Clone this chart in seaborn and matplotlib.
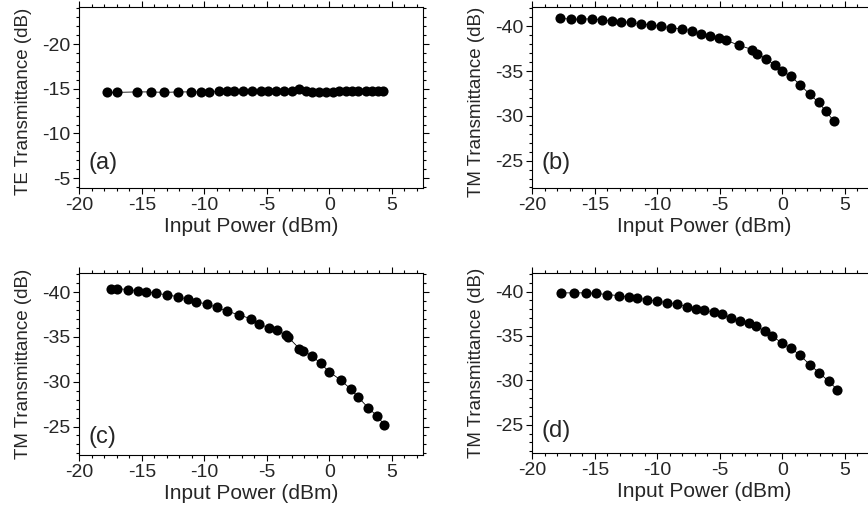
import matplotlib
matplotlib.use("Agg")
import matplotlib.pyplot as plt
import seaborn as sns
from matplotlib.ticker import MultipleLocator

# panel (a): TE transmittance
power_a = [-17.8, -17.0, -15.4, -14.3, -13.2, -12.1, -11.1, -10.3, -9.6, -8.8, -8.2,
           -7.6, -6.9, -6.2, -5.5, -4.9, -4.3, -3.6, -3.0, -2.4, -1.9, -1.4, -0.8,
           -0.3, 0.3, 0.8, 1.3, 1.8, 2.3, 2.9, 3.4, 3.9, 4.3]
te_a = [-14.6, -14.6, -14.65, -14.65, -14.6, -14.65, -14.65, -14.65, -14.65, -14.7, -14.7,
        -14.7, -14.7, -14.75, -14.75, -14.75, -14.75, -14.8, -14.8, -15.0, -14.7, -14.65, -14.65,
        -14.6, -14.65, -14.7, -14.7, -14.7, -14.75, -14.8, -14.8, -14.8, -14.8]

# panel (b)
power_b = [-17.8, -16.9, -16.1, -15.2, -14.4, -13.6, -12.9, -12.1, -11.3, -10.5, -9.7,
           -8.9, -8.0, -7.2, -6.5, -5.8, -5.1, -4.5, -3.5, -2.4, -2.0, -1.3, -0.6,
           0.0, 0.7, 1.4, 2.2, 2.9, 3.5, 4.1]
tm_b = [-40.9, -40.8, -40.8, -40.85, -40.7, -40.6, -40.5, -40.45, -40.25, -40.15, -40.0,
        -39.85, -39.7, -39.5, -39.2, -38.95, -38.7, -38.45, -37.9, -37.4, -36.95, -36.35, -35.7,
        -35.0, -34.4, -33.5, -32.4, -31.5, -30.5, -29.45]

# panel (c)
power_c = [-17.5, -17.0, -16.1, -15.3, -14.7, -13.9, -13.0, -12.1, -11.3, -10.7, -9.8,
           -9.0, -8.2, -7.2, -6.3, -5.6, -4.8, -4.2, -3.5, -3.3, -2.4, -2.1, -1.4,
           -0.7, 0.0, 0.9, 1.7, 2.3, 3.1, 3.8, 4.4]
tm_c = [-40.4, -40.4, -40.3, -40.15, -40.05, -39.9, -39.7, -39.5, -39.2, -38.9, -38.7,
        -38.3, -37.9, -37.45, -37.05, -36.5, -35.95, -35.8, -35.2, -35.0, -33.7, -33.45, -32.9,
        -32.05, -31.1, -30.2, -29.2, -28.3, -27.1, -26.2, -25.2]

# panel (d)
power_d = [-17.7, -16.7, -15.7, -14.9, -14.0, -13.1, -12.3, -11.6, -10.8, -10.0, -9.2,
           -8.4, -7.6, -6.9, -6.3, -5.5, -4.8, -4.1, -3.4, -2.7, -2.1, -1.4, -0.8,
           0.0, 0.7, 1.4, 2.2, 2.95, 3.7, 4.4]
tm_d = [-39.85, -39.85, -39.85, -39.8, -39.65, -39.55, -39.4, -39.25, -39.1, -38.9, -38.75,
        -38.6, -38.3, -38.05, -37.9, -37.7, -37.45, -37.05, -36.7, -36.45, -36.1, -35.55, -34.95,
        -34.2, -33.6, -32.85, -31.75, -30.85, -29.9, -28.95]

panels = [
    ("(a)", power_a, te_a, "TE Transmittance (dB)", (-3.9, -24.2), [-5, -10, -15, -20], 0.14, 0.475),
    ("(b)", power_b, tm_b, "TM Transmittance (dB)", (-21.95, -42.2), [-25, -30, -35, -40], 0.14, 0.475),
    ("(c)", power_c, tm_c, "TM Transmittance (dB)", (-21.8, -42.1), [-25, -30, -35, -40], 0.10, 0.5),
    ("(d)", power_d, tm_d, "TM Transmittance (dB)", (-21.8, -42.1), [-25, -30, -35, -40], 0.12, 0.5),
]

positions = [
    [0.0914, 0.633, 0.396, 0.354],
    [0.6133, 0.633, 0.396, 0.354],
    [0.0914, 0.111, 0.396, 0.355],
    [0.6133, 0.115, 0.396, 0.352],
]

sns.set_style("ticks")
plt.rcParams["font.family"] = ["Liberation Sans", "DejaVu Sans"]
plt.rcParams["axes.unicode_minus"] = False

fig = plt.figure(figsize=(8.68, 5.12), dpi=100)

for (tag, xs, ys, ylabel, ylim, yticks, ty, ly), pos in zip(panels, positions):
    ax = fig.add_axes(pos)
    sns.lineplot(x=xs, y=ys, ax=ax, color="black", linewidth=0.6, marker="o",
                 markersize=7.3, markeredgewidth=0, sort=False, estimator=None)
    ax.set_xlim(-20, 7.5)
    ax.set_ylim(*ylim)
    ax.set_xticks([-20, -15, -10, -5, 0, 5])
    ax.set_yticks(yticks)
    ax.xaxis.set_minor_locator(MultipleLocator(1))
    ax.yaxis.set_minor_locator(MultipleLocator(1))
    ax.tick_params(which="both", direction="out", top=True, right=True,
                   labelsize=14, width=0.8, color="black")
    ax.tick_params(which="major", length=4.5, pad=2)
    ax.tick_params(which="minor", length=2.2)
    for sp in ax.spines.values():
        sp.set_linewidth(0.8)
        sp.set_color("black")
    ax.set_xlabel("Input Power (dBm)", fontsize=15, labelpad=2)
    ax.set_ylabel(ylabel, fontsize=13.5)
    ax.yaxis.set_label_coords(-0.138, ly)
    ax.text(0.027, ty, tag, transform=ax.transAxes, fontsize=17, va="center", ha="left")

fig.savefig("out.png", dpi=100)
